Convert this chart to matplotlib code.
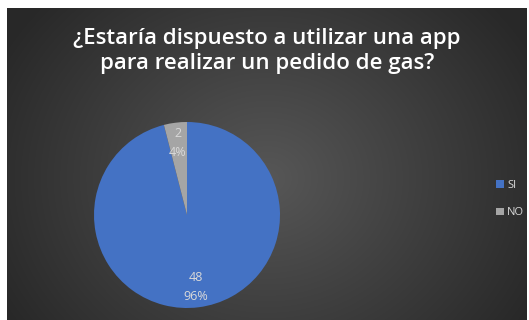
import numpy as np
import matplotlib.pyplot as plt

labels = ['SI', 'NO']
values = [48, 2]
colors = ['#4472C4', '#A5A5A5']
title = '¿Estaría dispuesto a utilizar una app\npara realizar un pedido de gas?'

W, H = 529, 320
fig = plt.figure(figsize=(W / 100, H / 100), dpi=100, facecolor='white')

# dark radial gradient background
bg = fig.add_axes([7 / W, 0, 520 / W, 312 / H])
bg.set_axis_off()
yy, xx = np.mgrid[0:312, 0:520]
d = np.sqrt(((xx - 260) / 300.0) ** 2 + ((yy - 170) / 260.0) ** 2)
d = np.clip(d, 0, 1)
lum = 0.34 - 0.18 * d
img = np.dstack([lum, lum, lum])
bg.imshow(img, aspect='auto', interpolation='bilinear')

fig.text(267 / W, 1 - 51 / H, title, ha='center', va='center', color='white',
         fontsize=16, fontweight='semibold', family='Open Sans', linespacing=1.2)

ax = fig.add_axes([94 / W, 12 / H, 186 / W, 186 / H])
total = sum(values)
wedges, texts, autotexts = ax.pie(
    values, colors=colors, startangle=90, counterclock=False,
    autopct=lambda p: '%d\n%d%%' % (round(p * total / 100), round(p)),
    pctdistance=0.78, wedgeprops=dict(linewidth=0),
    textprops=dict(color='#d9d9d9', fontsize=9, family='Open Sans'))
ax.set_xlim(-1, 1)
ax.set_ylim(-1, 1)
ax.set_aspect('equal')
for t in autotexts:
    t.set_linespacing(1.6)

leg = fig.legend(wedges, labels, loc='center left', bbox_to_anchor=(486 / W, 1 - 199 / H),
                 frameon=False, handlelength=0.7, handleheight=0.7, handletextpad=0.3,
                 labelspacing=1.5, prop=dict(family='Open Sans', size=8))
for t in leg.get_texts():
    t.set_color('#d9d9d9')

fig.savefig('out.png', dpi=100, facecolor='white')
